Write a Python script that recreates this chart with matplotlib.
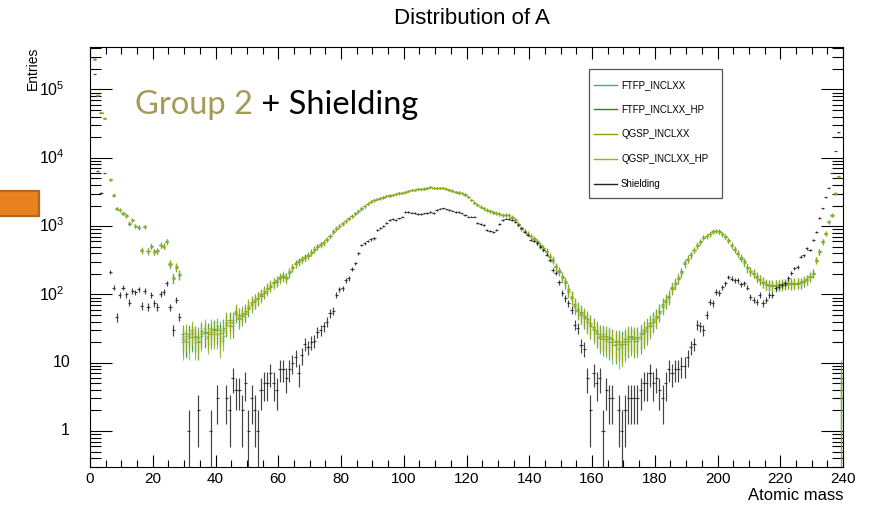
import numpy as np
import matplotlib
matplotlib.use("Agg")
import matplotlib.pyplot as plt
from matplotlib.patches import Rectangle
from matplotlib.lines import Line2D
from matplotlib.ticker import FixedLocator, MultipleLocator, NullFormatter, LogLocator

plt.rcParams['font.family'] = ['Liberation Sans', 'DejaVu Sans']

# Entries per atomic-mass bin (bins of width 1, A = 0 .. 239)
ftfp_inclxx = [
    0, 2.7e5, 8.1e4, 4.5e4, 3.7e4, 0, 4.7e3, 2.8e3, 1.78e3, 1.7e3,
    1520, 1400, 1080, 1210, 990, 950, 430, 960, 425, 500,
    415, 440, 520, 500, 580, 270, 168, 245, 190, 20,
    22, 25, 26, 20, 24, 25, 28, 27, 32, 30,
    26, 30, 25, 38, 40, 42, 52, 44, 54, 52,
    62, 70, 84, 90, 95, 112, 118, 138, 145, 160,
    170, 180, 178, 205, 250, 275, 310, 318, 350, 360,
    420, 450, 505, 530, 580, 630, 710, 820, 930, 990,
    1100, 1170, 1300, 1390, 1520, 1680, 1790, 1950, 2140, 2270,
    2400, 2480, 2580, 2620, 2760, 2790, 2870, 2930, 3040, 3060,
    3150, 3230, 3400, 3400, 3470, 3480, 3560, 3580, 3680, 3670,
    3570, 3640, 3620, 3520, 3360, 3320, 3160, 3120, 3050, 2920,
    2660, 2420, 2180, 2070, 1900, 1840, 1700, 1670, 1560, 1570,
    1480, 1470, 1430, 1460, 1330, 1250, 1060, 950, 840, 790,
    710, 660, 580, 530, 465, 430, 350, 325, 248, 225,
    175, 155, 110, 94, 66, 62, 50, 49, 39, 38,
    30, 30, 23, 26, 21, 24, 18, 21, 16, 20,
    19, 25, 22, 24, 21, 27, 26, 33, 34, 43,
    45, 58, 66, 84, 90, 128, 140, 178, 205, 295,
    320, 385, 440, 530, 580, 690, 710, 770, 820, 860,
    820, 770, 690, 630, 515, 460, 390, 350, 290, 250,
    215, 208, 175, 168, 148, 142, 134, 138, 133, 140,
    137, 145, 142, 147, 141, 149, 145, 158, 162, 185,
    200, 322, 415, 600, 770, 1170, 1420, 3050, 5200, 6,
]

ftfp_inclxx_hp = [
    0, 2.8e5, 8.2e4, 4.6e4, 3.8e4, 0, 4.75e3, 2.83e3, 1.8e3, 1.73e3,
    1540, 1430, 1090, 1220, 1010, 970, 440, 990, 430, 505,
    425, 428, 530, 515, 595, 282, 175, 250, 198, 26,
    21, 26, 24, 25, 20, 29, 27, 28, 26, 31,
    30, 27, 32, 36, 42, 35, 54, 50, 48, 58,
    64, 78, 78, 90, 100, 106, 124, 130, 152, 152,
    178, 182, 176, 210, 248, 285, 296, 330, 340, 375,
    405, 462, 495, 545, 565, 650, 715, 835, 910, 1010,
    1080, 1190, 1280, 1410, 1540, 1650, 1810, 1970, 2110, 2290,
    2370, 2510, 2550, 2650, 2730, 2810, 2840, 2960, 3010, 3090,
    3120, 3260, 3370, 3430, 3440, 3510, 3530, 3610, 3690, 3660,
    3600, 3610, 3660, 3490, 3390, 3290, 3190, 3090, 3090, 2890,
    2700, 2390, 2210, 2040, 1930, 1810, 1730, 1640, 1590, 1540,
    1510, 1440, 1460, 1440, 1360, 1220, 1090, 920, 860, 770,
    725, 645, 595, 515, 478, 415, 365, 312, 258, 215,
    185, 145, 118, 88, 72, 58, 55, 45, 44, 34,
    33, 27, 26, 22, 25, 20, 22, 18, 21, 19,
    22, 21, 25, 21, 24, 23, 30, 29, 38, 40,
    48, 54, 72, 78, 96, 120, 148, 168, 218, 280,
    335, 372, 450, 515, 595, 670, 725, 755, 835, 845,
    835, 755, 705, 615, 530, 445, 405, 335, 305, 240,
    222, 200, 183, 162, 153, 138, 139, 133, 139, 135,
    142, 139, 147, 141, 147, 143, 150, 153, 168, 177,
    207, 312, 425, 585, 790, 1140, 1460, 2950, 5350, 3,
]

qgsp_inclxx = [
    0, 2.85e5, 8.4e4, 4.7e4, 3.85e4, 0, 4.85e3, 2.9e3, 1.84e3, 1.74e3,
    1560, 1410, 1110, 1240, 1005, 965, 445, 985, 438, 515,
    418, 436, 522, 505, 600, 285, 178, 260, 192, 22,
    27, 20, 30, 24, 21, 26, 32, 23, 28, 26,
    34, 21, 30, 42, 34, 40, 58, 45, 52, 54,
    68, 72, 82, 86, 96, 110, 122, 132, 148, 158,
    172, 190, 168, 218, 242, 282, 305, 322, 348, 365,
    415, 452, 508, 535, 575, 635, 725, 825, 925, 995,
    1095, 1175, 1295, 1395, 1535, 1655, 1805, 1955, 2125, 2275,
    2385, 2495, 2565, 2635, 2745, 2795, 2855, 2945, 3025, 3075,
    3135, 3245, 3385, 3415, 3455, 3495, 3545, 3595, 3705, 3645,
    3595, 3615, 3655, 3495, 3385, 3295, 3185, 3095, 3085, 2895,
    2695, 2395, 2205, 2045, 1925, 1815, 1725, 1645, 1585, 1545,
    1505, 1445, 1455, 1445, 1355, 1225, 1085, 925, 855, 775,
    715, 655, 585, 525, 470, 425, 355, 320, 250, 222,
    178, 152, 112, 92, 68, 61, 51, 48, 40, 37,
    31, 29, 24, 25, 22, 23, 20, 20, 19, 17,
    20, 24, 23, 23, 22, 26, 27, 32, 35, 42,
    46, 57, 68, 82, 92, 125, 143, 175, 210, 290,
    325, 380, 442, 525, 585, 680, 715, 765, 825, 855,
    825, 765, 695, 625, 520, 455, 395, 345, 295, 248,
    218, 206, 178, 166, 150, 141, 136, 136, 136, 138,
    139, 143, 144, 145, 143, 147, 146, 156, 163, 182,
    202, 320, 418, 595, 775, 1160, 1440, 3020, 5250, 5,
]

qgsp_inclxx_hp = [
    0, 2.8e5, 8.3e4, 4.6e4, 3.8e4, 0, 4.8e3, 2.85e3, 1.82e3, 1.72e3,
    1550, 1420, 1100, 1230, 1000, 960, 437, 980, 432, 510,
    422, 432, 527, 510, 590, 279, 172, 255, 195, 24,
    25, 23, 28, 22, 23, 27, 30, 25, 30, 28,
    32, 23, 28, 40, 36, 38, 56, 47, 50, 56,
    66, 74, 80, 88, 98, 108, 120, 135, 150, 155,
    175, 186, 172, 214, 245, 280, 300, 325, 345, 370,
    410, 457, 500, 540, 570, 640, 720, 830, 920, 1000,
    1090, 1180, 1290, 1400, 1530, 1660, 1800, 1960, 2120, 2280,
    2380, 2500, 2560, 2640, 2740, 2800, 2850, 2950, 3020, 3080,
    3130, 3250, 3380, 3420, 3450, 3500, 3540, 3600, 3700, 3650,
    3590, 3620, 3650, 3500, 3380, 3300, 3180, 3100, 3080, 2900,
    2690, 2400, 2200, 2050, 1920, 1820, 1720, 1650, 1580, 1550,
    1500, 1450, 1450, 1450, 1350, 1230, 1080, 930, 850, 780,
    720, 650, 590, 520, 473, 420, 360, 317, 254, 220,
    180, 150, 115, 90, 70, 60, 53, 47, 42, 36,
    32, 28, 25, 24, 23, 22, 21, 19, 20, 18,
    21, 23, 24, 22, 23, 25, 28, 31, 36, 41,
    47, 56, 70, 80, 93, 123, 145, 172, 214, 285,
    330, 377, 446, 520, 590, 676, 720, 760, 830, 850,
    830, 760, 700, 620, 527, 450, 400, 340, 300, 245,
    220, 204, 180, 165, 151, 140, 137, 135, 137, 137,
    140, 141, 145, 143, 145, 145, 148, 155, 165, 180,
    204, 317, 422, 590, 780, 1150, 1450, 3000, 5300, 4,
]

shielding = [
    0, 1.7e5, 6.4e3, 3.1e3, 6.0e3, 0, 214, 126, 46, 98,
    126, 100, 76, 112, 107, 119, 68, 113, 66, 98,
    74, 66, 101, 110, 145, 65, 30, 83, 47, 0,
    0, 1, 0, 0, 2, 0, 0, 0, 1, 0,
    3, 0, 0, 3, 2, 6, 4, 4, 2, 5,
    1, 3, 2, 1, 4, 5, 5, 7, 5, 4,
    8, 8, 6, 8, 10, 12, 7, 13, 19, 17,
    20, 21, 28, 30, 34, 40, 53, 57, 98, 119,
    123, 162, 172, 234, 285, 400, 530, 560, 600, 640,
    660, 875, 930, 1000, 1100, 1230, 1260, 1230, 1300, 1380,
    1620, 1620, 1570, 1550, 1510, 1510, 1530, 1550, 1620, 1550,
    1720, 1800, 1820, 1760, 1720, 1680, 1600, 1620, 1530, 1450,
    1380, 1380, 1380, 1120, 1080, 1040, 875, 840, 810, 875,
    1060, 1230, 1290, 1260, 1230, 1150, 1050, 930, 820, 740,
    630, 600, 560, 500, 446, 380, 317, 228, 204, 150,
    104, 88, 74, 59, 36, 32, 18, 16, 6, 2,
    7, 5, 6, 1, 4, 3, 3, 0, 2, 1,
    2, 3, 3, 3, 3, 4, 5, 5, 7, 5,
    6, 4, 3, 5, 8, 7, 8, 8, 9, 9,
    12, 17, 19, 36, 34, 30, 50, 78, 74, 110,
    104, 128, 145, 182, 170, 162, 162, 141, 145, 126,
    93, 83, 78, 98, 74, 83, 98, 98, 123, 130,
    137, 145, 172, 204, 240, 254, 355, 377, 473, 446,
    620, 810, 1320, 1820, 2640, 3640, 6000, 12600, 23500, 0,
]

series_names = ["FTFP_INCLXX", "FTFP_INCLXX_HP", "QGSP_INCLXX",
                "QGSP_INCLXX_HP", "Shielding"]
series_values = [ftfp_inclxx, ftfp_inclxx_hp, qgsp_inclxx,
                 qgsp_inclxx_hp, shielding]
series_colors = ["#35b08a", "#1a8a22", "#78ad08", "#aaaa10", "#222222"]
# event weight of each sample (statistical error = sqrt(weight * entries))
series_weights = [4.0, 4.0, 4.0, 4.0, 1.0]
series_alpha = [0.7, 0.7, 0.7, 0.7, 0.85]

x_ticks = [0, 20, 40, 60, 80, 100, 120, 140, 160, 180, 200, 220, 240]
y_ticks = [1, 10, 1e2, 1e3, 1e4, 1e5]
y_tick_labels = ["1", "10", r"$\mathregular{10^{2}}$", r"$\mathregular{10^{3}}$",
                 r"$\mathregular{10^{4}}$", r"$\mathregular{10^{5}}$"]

W, H = 874, 505
fig = plt.figure(figsize=(W / 100, H / 100), dpi=100)
ax = fig.add_axes([90 / W, 38 / H, 753 / W, 420 / H])
ax.set_yscale("log")
ax.set_xlim(0, 240)
ax.set_ylim(0.297, 4.19e5)


def draw_hist(values, color, weight, alpha):
    v = np.asarray(values, dtype=float)
    centers = np.arange(len(v)) + 0.5
    keep = v > 0
    x = centers[keep]
    y = v[keep]
    err = np.sqrt(weight * y)
    low = y - np.maximum(y - err, 1e-3)
    ax.errorbar(x, y, xerr=0.5, yerr=[low, err], fmt="none",
                ecolor=color, elinewidth=0.85, capsize=0, alpha=alpha)


for vals, col, w, al in zip(series_values, series_colors, series_weights, series_alpha):
    draw_hist(vals, col, w, al)

# axis ticks, drawn inside on all four sides
ax.xaxis.set_major_locator(FixedLocator(x_ticks))
ax.xaxis.set_minor_locator(MultipleLocator(5))
ax.yaxis.set_major_locator(FixedLocator(y_ticks))
ax.yaxis.set_major_formatter(NullFormatter())
ax.yaxis.set_minor_locator(LogLocator(base=10, subs=np.arange(2, 10)))
ax.yaxis.set_minor_formatter(NullFormatter())
ax.tick_params(axis="x", which="major", direction="in", length=8.6, width=0.8,
               top=True, labelsize=11, pad=3.5)
ax.tick_params(axis="x", which="minor", direction="in", length=4.7, width=0.8, top=True)
ax.tick_params(axis="y", which="major", direction="in", length=15.8, width=0.8, right=True)
ax.tick_params(axis="y", which="minor", direction="in", length=7.9, width=0.8, right=True)
for s in ax.spines.values():
    s.set_linewidth(0.8)

# y tick labels: plain numbers end 20 px left of the frame, powers of ten 25 px
ytrans = ax.get_yaxis_transform()
for val, lab in zip(y_ticks, y_tick_labels):
    off = 20 if val < 100 else 25
    ax.text(-off / 753, val, lab, transform=ytrans, ha="right", va="center",
            fontsize=11.5)

fig.text(472 / W, 1 - 18 / H, "Distribution of A", ha="center", va="center", fontsize=16)
fig.text(843 / W, 1 - 496 / H, "Atomic mass", ha="right", va="center", fontsize=12)
fig.text(33 / W, 1 - 47 / H, "Entries", rotation=90, ha="center", va="top", fontsize=10)

# legend box
fig.patches.append(Rectangle((589 / W, 1 - 198 / H), 133 / W, 129 / H,
                             transform=fig.transFigure, facecolor="white",
                             edgecolor="#555555", linewidth=0.9, zorder=5))
legend_rows = [85, 109, 134, 159, 184]
for name, col, yy in zip(series_names, series_colors, legend_rows):
    fig.lines.append(Line2D([594 / W, 617 / W], [1 - yy / H, 1 - yy / H],
                            transform=fig.transFigure, color=col, linewidth=1.0, zorder=6))
    fig.text(621 / W, 1 - yy / H, name, ha="left", va="center", fontsize=7, zorder=7)

# slide annotation
t1 = fig.text(135 / W, 1 - 120 / H, "Group 2", ha="left", va="bottom",
              fontsize=23.5, color="#a39b57", family=["Lato", "DejaVu Sans"])
ax.annotate(" + Shielding", xy=(1, 0), xycoords=t1, ha="left", va="bottom",
            fontsize=23.5, color="black", family=["Lato", "DejaVu Sans"],
            annotation_clip=False)

fig.patches.append(Rectangle((-2 / W, 1 - 216 / H), 41 / W, 25 / H,
                             transform=fig.transFigure, facecolor="#e8821e",
                             edgecolor="#b5651d", linewidth=1.6, zorder=5))

fig.savefig("out.png", dpi=100)
